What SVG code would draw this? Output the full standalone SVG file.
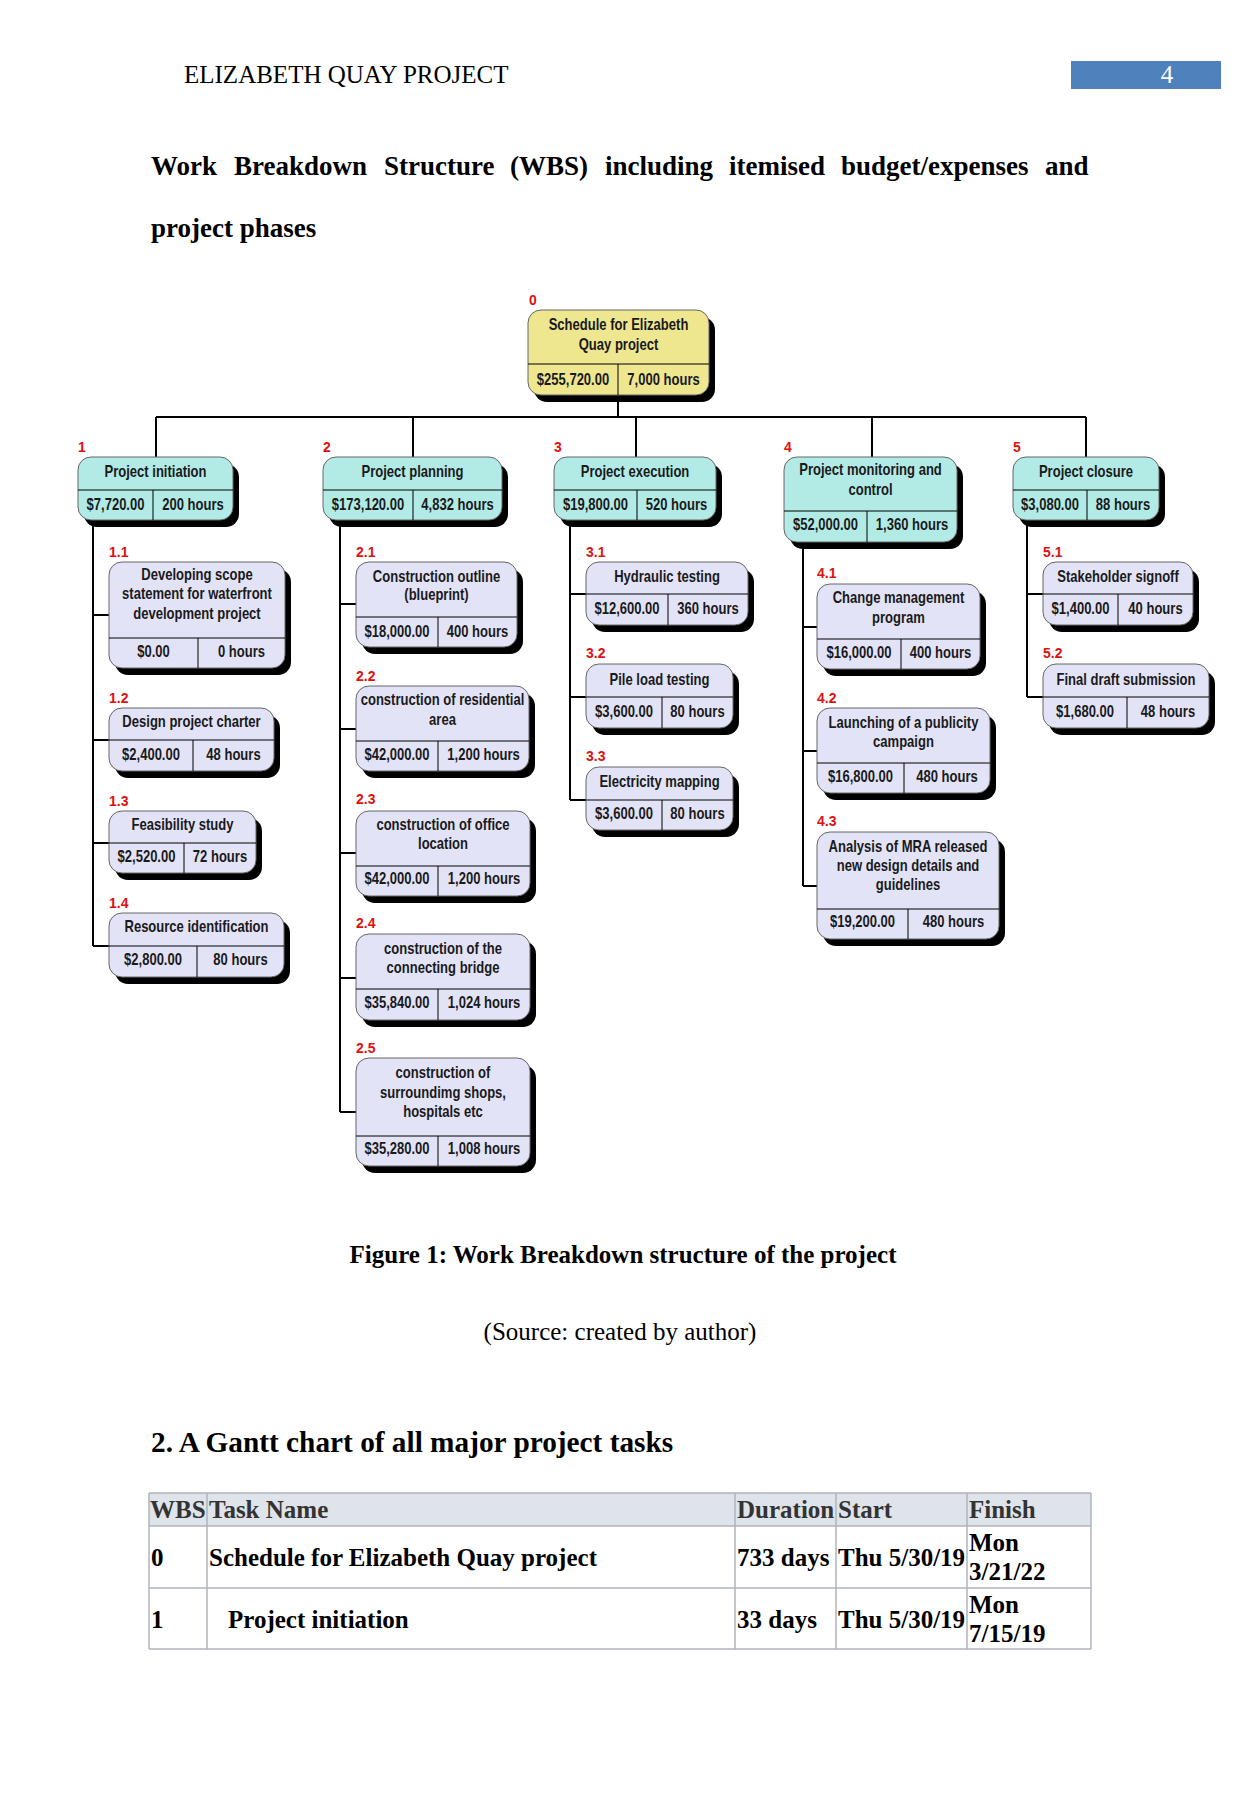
<svg xmlns="http://www.w3.org/2000/svg" width="1241" height="1807" viewBox="0 0 1241 1807">
<style>
.bg{fill:#fff}
.sh{fill:#000}
.r0{fill:#efe690;stroke:#666;stroke-width:1}
.l1{fill:#b2ebe6;stroke:#666;stroke-width:1}
.l2{fill:#e3e3f7;stroke:#666;stroke-width:1}
.dv{stroke:#000;stroke-width:1;fill:none}
.t{font-family:"Liberation Sans",Arial,sans-serif;font-weight:bold;font-size:16.5px;fill:#1a1a1a;text-anchor:middle}
.lb{font-family:"Liberation Sans",Arial,sans-serif;font-weight:bold;font-size:14px;fill:#e01010}
.cn{stroke:#000;stroke-width:2;fill:none}
.serif{font-family:"Liberation Serif","Times New Roman",serif;fill:#000}
.b{font-weight:bold}
.tb{stroke:#b0b4bc;stroke-width:1.5;fill:none}
</style>
<rect class="bg" x="0" y="0" width="1241" height="1807"/>

<g id="page-header">
<text class="serif" x="184" y="83" font-size="25">ELIZABETH QUAY PROJECT</text>
<rect x="1071" y="61" width="150" height="28" fill="#4f81bd"/>
<text class="serif" x="1167" y="83" font-size="25" text-anchor="middle" style="fill:#fff">4</text>
</g>

<g id="title">
<text class="serif b" y="175" font-size="27"><tspan x="151">Work</tspan><tspan x="234">Breakdown</tspan><tspan x="384">Structure</tspan><tspan x="510">(WBS)</tspan><tspan x="605">including</tspan><tspan x="729">itemised</tspan><tspan x="841">budget/expenses</tspan><tspan x="1045">and</tspan></text>
<text class="serif b" x="151" y="237" font-size="27">project phases</text>
</g>

<g id="connectors">
<path class="cn" d="M618 395V417M156 417H1086M156 417V457M413 417V457M636 417V457M872 417V457M1086 417V457"/>
<path class="cn" d="M93 520V946M93 615H109M93 740H109M93 843H109M93 946H109"/>
<path class="cn" d="M340 520V1112M340 604H356M340 729H356M340 853H356M340 978H356M340 1112H356"/>
<path class="cn" d="M570 520V800M570 594H586M570 697H586M570 800H586"/>
<path class="cn" d="M803 542V886M803 627H817M803 751H817M803 886H817"/>
<path class="cn" d="M1027 520V697M1027 594H1043M1027 697H1043"/>
</g>

<g id="n0">
<text class="lb" x="529" y="305">0</text>
<rect class="sh" x="534" y="317" width="181" height="85" rx="13"/>
<rect class="r0" x="528" y="310" width="181" height="85" rx="13"/>
<path class="dv" d="M528 364H709M618 364V395"/>
<text class="t" transform="translate(618.5 330) scale(.79 1)">Schedule for Elizabeth</text>
<text class="t" transform="translate(618.5 350) scale(.79 1)">Quay project</text>
<text class="t" transform="translate(573 385) scale(.79 1)">$255,720.00</text>
<text class="t" transform="translate(663.5 385) scale(.79 1)">7,000 hours</text>
</g>

<g id="n1">
<text class="lb" x="78" y="452">1</text>
<rect class="sh" x="84" y="464" width="155" height="63" rx="13"/>
<rect class="l1" x="78" y="457" width="155" height="63" rx="13"/>
<path class="dv" d="M78 490H233M153 490V520"/>
<text class="t" transform="translate(155.5 477) scale(.79 1)">Project initiation</text>
<text class="t" transform="translate(115.5 510) scale(.79 1)">$7,720.00</text>
<text class="t" transform="translate(193 510) scale(.79 1)">200 hours</text>
</g>

<g id="n2">
<text class="lb" x="323" y="452">2</text>
<rect class="sh" x="329" y="464" width="179" height="63" rx="13"/>
<rect class="l1" x="323" y="457" width="179" height="63" rx="13"/>
<path class="dv" d="M323 490H502M413 490V520"/>
<text class="t" transform="translate(412.5 477) scale(.79 1)">Project planning</text>
<text class="t" transform="translate(368 510) scale(.79 1)">$173,120.00</text>
<text class="t" transform="translate(457.5 510) scale(.79 1)">4,832 hours</text>
</g>

<g id="n3">
<text class="lb" x="554" y="452">3</text>
<rect class="sh" x="560" y="464" width="162" height="63" rx="13"/>
<rect class="l1" x="554" y="457" width="162" height="63" rx="13"/>
<path class="dv" d="M554 490H716M637 490V520"/>
<text class="t" transform="translate(635 477) scale(.79 1)">Project execution</text>
<text class="t" transform="translate(595.5 510) scale(.79 1)">$19,800.00</text>
<text class="t" transform="translate(676.5 510) scale(.79 1)">520 hours</text>
</g>

<g id="n4">
<text class="lb" x="784" y="452">4</text>
<rect class="sh" x="790" y="464" width="173" height="85" rx="13"/>
<rect class="l1" x="784" y="457" width="173" height="85" rx="13"/>
<path class="dv" d="M784 511H957M867 511V542"/>
<text class="t" transform="translate(870.5 475) scale(.79 1)">Project monitoring and</text>
<text class="t" transform="translate(870.5 495) scale(.79 1)">control</text>
<text class="t" transform="translate(825.5 530) scale(.79 1)">$52,000.00</text>
<text class="t" transform="translate(912 530) scale(.79 1)">1,360 hours</text>
</g>

<g id="n5">
<text class="lb" x="1013" y="452">5</text>
<rect class="sh" x="1019" y="464" width="146" height="63" rx="13"/>
<rect class="l1" x="1013" y="457" width="146" height="63" rx="13"/>
<path class="dv" d="M1013 490H1159M1087 490V520"/>
<text class="t" transform="translate(1086 477) scale(.79 1)">Project closure</text>
<text class="t" transform="translate(1050 510) scale(.79 1)">$3,080.00</text>
<text class="t" transform="translate(1123 510) scale(.79 1)">88 hours</text>
</g>

<g id="n1_1">
<text class="lb" x="109" y="557">1.1</text>
<rect class="sh" x="115" y="569" width="176" height="106" rx="13"/>
<rect class="l2" x="109" y="562" width="176" height="106" rx="13"/>
<path class="dv" d="M109 638H285M198 638V668"/>
<text class="t" transform="translate(197 580) scale(.79 1)">Developing scope</text>
<text class="t" transform="translate(197 599) scale(.79 1)">statement for waterfront</text>
<text class="t" transform="translate(197 619) scale(.79 1)">development project</text>
<text class="t" transform="translate(153.5 657) scale(.79 1)">$0.00</text>
<text class="t" transform="translate(241.5 657) scale(.79 1)">0 hours</text>
</g>

<g id="n1_2">
<text class="lb" x="109" y="703">1.2</text>
<rect class="sh" x="115" y="715" width="165" height="63" rx="13"/>
<rect class="l2" x="109" y="708" width="165" height="63" rx="13"/>
<path class="dv" d="M109 740H274M193 740V771"/>
<text class="t" transform="translate(191.5 727) scale(.79 1)">Design project charter</text>
<text class="t" transform="translate(151 760) scale(.79 1)">$2,400.00</text>
<text class="t" transform="translate(233.5 760) scale(.79 1)">48 hours</text>
</g>

<g id="n1_3">
<text class="lb" x="109" y="806">1.3</text>
<rect class="sh" x="115" y="818" width="147" height="62" rx="13"/>
<rect class="l2" x="109" y="811" width="147" height="62" rx="13"/>
<path class="dv" d="M109 843H256M184 843V873"/>
<text class="t" transform="translate(182.5 830) scale(.79 1)">Feasibility study</text>
<text class="t" transform="translate(146.5 862) scale(.79 1)">$2,520.00</text>
<text class="t" transform="translate(220 862) scale(.79 1)">72 hours</text>
</g>

<g id="n1_4">
<text class="lb" x="109" y="908">1.4</text>
<rect class="sh" x="115" y="920" width="175" height="64" rx="13"/>
<rect class="l2" x="109" y="913" width="175" height="64" rx="13"/>
<path class="dv" d="M109 946H284M197 946V977"/>
<text class="t" transform="translate(196.5 932) scale(.79 1)">Resource identification</text>
<text class="t" transform="translate(153 965) scale(.79 1)">$2,800.00</text>
<text class="t" transform="translate(240.5 965) scale(.79 1)">80 hours</text>
</g>

<g id="n2_1">
<text class="lb" x="356" y="557">2.1</text>
<rect class="sh" x="362" y="569" width="161" height="85" rx="13"/>
<rect class="l2" x="356" y="562" width="161" height="85" rx="13"/>
<path class="dv" d="M356 617H517M438 617V647"/>
<text class="t" transform="translate(436.5 582) scale(.79 1)">Construction outline</text>
<text class="t" transform="translate(436.5 600) scale(.79 1)">(blueprint)</text>
<text class="t" transform="translate(397 637) scale(.79 1)">$18,000.00</text>
<text class="t" transform="translate(477.5 637) scale(.79 1)">400 hours</text>
</g>

<g id="n2_2">
<text class="lb" x="356" y="681">2.2</text>
<rect class="sh" x="362" y="693" width="173" height="85" rx="13"/>
<rect class="l2" x="356" y="686" width="173" height="85" rx="13"/>
<path class="dv" d="M356 741H529M438 741V771"/>
<text class="t" transform="translate(442.5 705) scale(.79 1)">construction of residential</text>
<text class="t" transform="translate(442.5 725) scale(.79 1)">area</text>
<text class="t" transform="translate(397 760) scale(.79 1)">$42,000.00</text>
<text class="t" transform="translate(483.5 760) scale(.79 1)">1,200 hours</text>
</g>

<g id="n2_3">
<text class="lb" x="356" y="804">2.3</text>
<rect class="sh" x="362" y="818" width="174" height="85" rx="13"/>
<rect class="l2" x="356" y="811" width="174" height="85" rx="13"/>
<path class="dv" d="M356 866H530M438 866V896"/>
<text class="t" transform="translate(443 830) scale(.79 1)">construction of office</text>
<text class="t" transform="translate(443 849) scale(.79 1)">location</text>
<text class="t" transform="translate(397 884) scale(.79 1)">$42,000.00</text>
<text class="t" transform="translate(484 884) scale(.79 1)">1,200 hours</text>
</g>

<g id="n2_4">
<text class="lb" x="356" y="928">2.4</text>
<rect class="sh" x="362" y="941" width="174" height="86" rx="13"/>
<rect class="l2" x="356" y="934" width="174" height="86" rx="13"/>
<path class="dv" d="M356 989H530M438 989V1020"/>
<text class="t" transform="translate(443 954) scale(.79 1)">construction of the</text>
<text class="t" transform="translate(443 973) scale(.79 1)">connecting bridge</text>
<text class="t" transform="translate(397 1008) scale(.79 1)">$35,840.00</text>
<text class="t" transform="translate(484 1008) scale(.79 1)">1,024 hours</text>
</g>

<g id="n2_5">
<text class="lb" x="356" y="1053">2.5</text>
<rect class="sh" x="362" y="1065" width="174" height="108" rx="13"/>
<rect class="l2" x="356" y="1058" width="174" height="108" rx="13"/>
<path class="dv" d="M356 1136H530M438 1136V1166"/>
<text class="t" transform="translate(443 1078) scale(.79 1)">construction of</text>
<text class="t" transform="translate(443 1098) scale(.79 1)">surroundimg shops,</text>
<text class="t" transform="translate(443 1117) scale(.79 1)">hospitals etc</text>
<text class="t" transform="translate(397 1154) scale(.79 1)">$35,280.00</text>
<text class="t" transform="translate(484 1154) scale(.79 1)">1,008 hours</text>
</g>

<g id="n3_1">
<text class="lb" x="586" y="557">3.1</text>
<rect class="sh" x="592" y="569" width="162" height="63" rx="13"/>
<rect class="l2" x="586" y="562" width="162" height="63" rx="13"/>
<path class="dv" d="M586 594H748M668 594V625"/>
<text class="t" transform="translate(667 582) scale(.79 1)">Hydraulic testing</text>
<text class="t" transform="translate(627 614) scale(.79 1)">$12,600.00</text>
<text class="t" transform="translate(708 614) scale(.79 1)">360 hours</text>
</g>

<g id="n3_2">
<text class="lb" x="586" y="658">3.2</text>
<rect class="sh" x="592" y="671" width="147" height="64" rx="13"/>
<rect class="l2" x="586" y="664" width="147" height="64" rx="13"/>
<path class="dv" d="M586 697H733M662 697V728"/>
<text class="t" transform="translate(659.5 685) scale(.79 1)">Pile load testing</text>
<text class="t" transform="translate(624 717) scale(.79 1)">$3,600.00</text>
<text class="t" transform="translate(697.5 717) scale(.79 1)">80 hours</text>
</g>

<g id="n3_3">
<text class="lb" x="586" y="761">3.3</text>
<rect class="sh" x="592" y="774" width="147" height="63" rx="13"/>
<rect class="l2" x="586" y="767" width="147" height="63" rx="13"/>
<path class="dv" d="M586 800H733M662 800V830"/>
<text class="t" transform="translate(659.5 787) scale(.79 1)">Electricity mapping</text>
<text class="t" transform="translate(624 819) scale(.79 1)">$3,600.00</text>
<text class="t" transform="translate(697.5 819) scale(.79 1)">80 hours</text>
</g>

<g id="n4_1">
<text class="lb" x="817" y="578">4.1</text>
<rect class="sh" x="823" y="591" width="163" height="85" rx="13"/>
<rect class="l2" x="817" y="584" width="163" height="85" rx="13"/>
<path class="dv" d="M817 639H980M901 639V669"/>
<text class="t" transform="translate(898.5 603) scale(.79 1)">Change management</text>
<text class="t" transform="translate(898.5 623) scale(.79 1)">program</text>
<text class="t" transform="translate(859 658) scale(.79 1)">$16,000.00</text>
<text class="t" transform="translate(940.5 658) scale(.79 1)">400 hours</text>
</g>

<g id="n4_2">
<text class="lb" x="817" y="703">4.2</text>
<rect class="sh" x="823" y="715" width="173" height="85" rx="13"/>
<rect class="l2" x="817" y="708" width="173" height="85" rx="13"/>
<path class="dv" d="M817 763H990M904 763V793"/>
<text class="t" transform="translate(903.5 728) scale(.79 1)">Launching of a publicity</text>
<text class="t" transform="translate(903.5 747) scale(.79 1)">campaign</text>
<text class="t" transform="translate(860.5 782) scale(.79 1)">$16,800.00</text>
<text class="t" transform="translate(947 782) scale(.79 1)">480 hours</text>
</g>

<g id="n4_3">
<text class="lb" x="817" y="826">4.3</text>
<rect class="sh" x="823" y="839" width="182" height="107" rx="13"/>
<rect class="l2" x="817" y="832" width="182" height="107" rx="13"/>
<path class="dv" d="M817 909H999M908 909V939"/>
<text class="t" transform="translate(908 852) scale(.79 1)">Analysis of MRA released</text>
<text class="t" transform="translate(908 871) scale(.79 1)">new design details and</text>
<text class="t" transform="translate(908 890) scale(.79 1)">guidelines</text>
<text class="t" transform="translate(862.5 927) scale(.79 1)">$19,200.00</text>
<text class="t" transform="translate(953.5 927) scale(.79 1)">480 hours</text>
</g>

<g id="n5_1">
<text class="lb" x="1043" y="557">5.1</text>
<rect class="sh" x="1049" y="569" width="150" height="63" rx="13"/>
<rect class="l2" x="1043" y="562" width="150" height="63" rx="13"/>
<path class="dv" d="M1043 594H1193M1118 594V625"/>
<text class="t" transform="translate(1118 582) scale(.79 1)">Stakeholder signoff</text>
<text class="t" transform="translate(1080.5 614) scale(.79 1)">$1,400.00</text>
<text class="t" transform="translate(1155.5 614) scale(.79 1)">40 hours</text>
</g>

<g id="n5_2">
<text class="lb" x="1043" y="658">5.2</text>
<rect class="sh" x="1049" y="671" width="166" height="64" rx="13"/>
<rect class="l2" x="1043" y="664" width="166" height="64" rx="13"/>
<path class="dv" d="M1043 697H1209M1127 697V728"/>
<text class="t" transform="translate(1126 685) scale(.79 1)">Final draft submission</text>
<text class="t" transform="translate(1085 717) scale(.79 1)">$1,680.00</text>
<text class="t" transform="translate(1168 717) scale(.79 1)">48 hours</text>
</g>

<g id="captions">
<text class="serif b" x="623" y="1263" font-size="25" text-anchor="middle">Figure 1: Work Breakdown structure of the project</text>
<text class="serif" x="620" y="1340" font-size="25" text-anchor="middle">(Source: created by author)</text>
<text class="serif b" x="151" y="1452" font-size="29.3">2. A Gantt chart of all major project tasks</text>
</g>

<g id="gantt-table">
<rect x="149" y="1493" width="942" height="33" fill="#dfe3ea"/>
<path class="tb" d="M149 1493H1091M149 1526H1091M149 1588H1091M149 1649H1091M149 1493V1649M207 1493V1649M735 1493V1649M836 1493V1649M967 1493V1649M1091 1493V1649"/>
<g class="serif b" font-size="25" style="fill:#333">
<text x="150" y="1518">WBS</text>
<text x="209" y="1518">Task Name</text>
<text x="737" y="1518">Duration</text>
<text x="838" y="1518">Start</text>
<text x="969" y="1518">Finish</text>
</g>
<g class="serif b" font-size="25">
<text x="151" y="1566">0</text>
<text x="209" y="1566">Schedule for Elizabeth Quay project</text>
<text x="737" y="1566">733 days</text>
<text x="838" y="1566">Thu 5/30/19</text>
<text x="969" y="1551">Mon</text>
<text x="969" y="1580">3/21/22</text>
<text x="151" y="1628">1</text>
<text x="228" y="1628">Project initiation</text>
<text x="737" y="1628">33 days</text>
<text x="838" y="1628">Thu 5/30/19</text>
<text x="969" y="1613">Mon</text>
<text x="969" y="1642">7/15/19</text>
</g>
</g>
</svg>
